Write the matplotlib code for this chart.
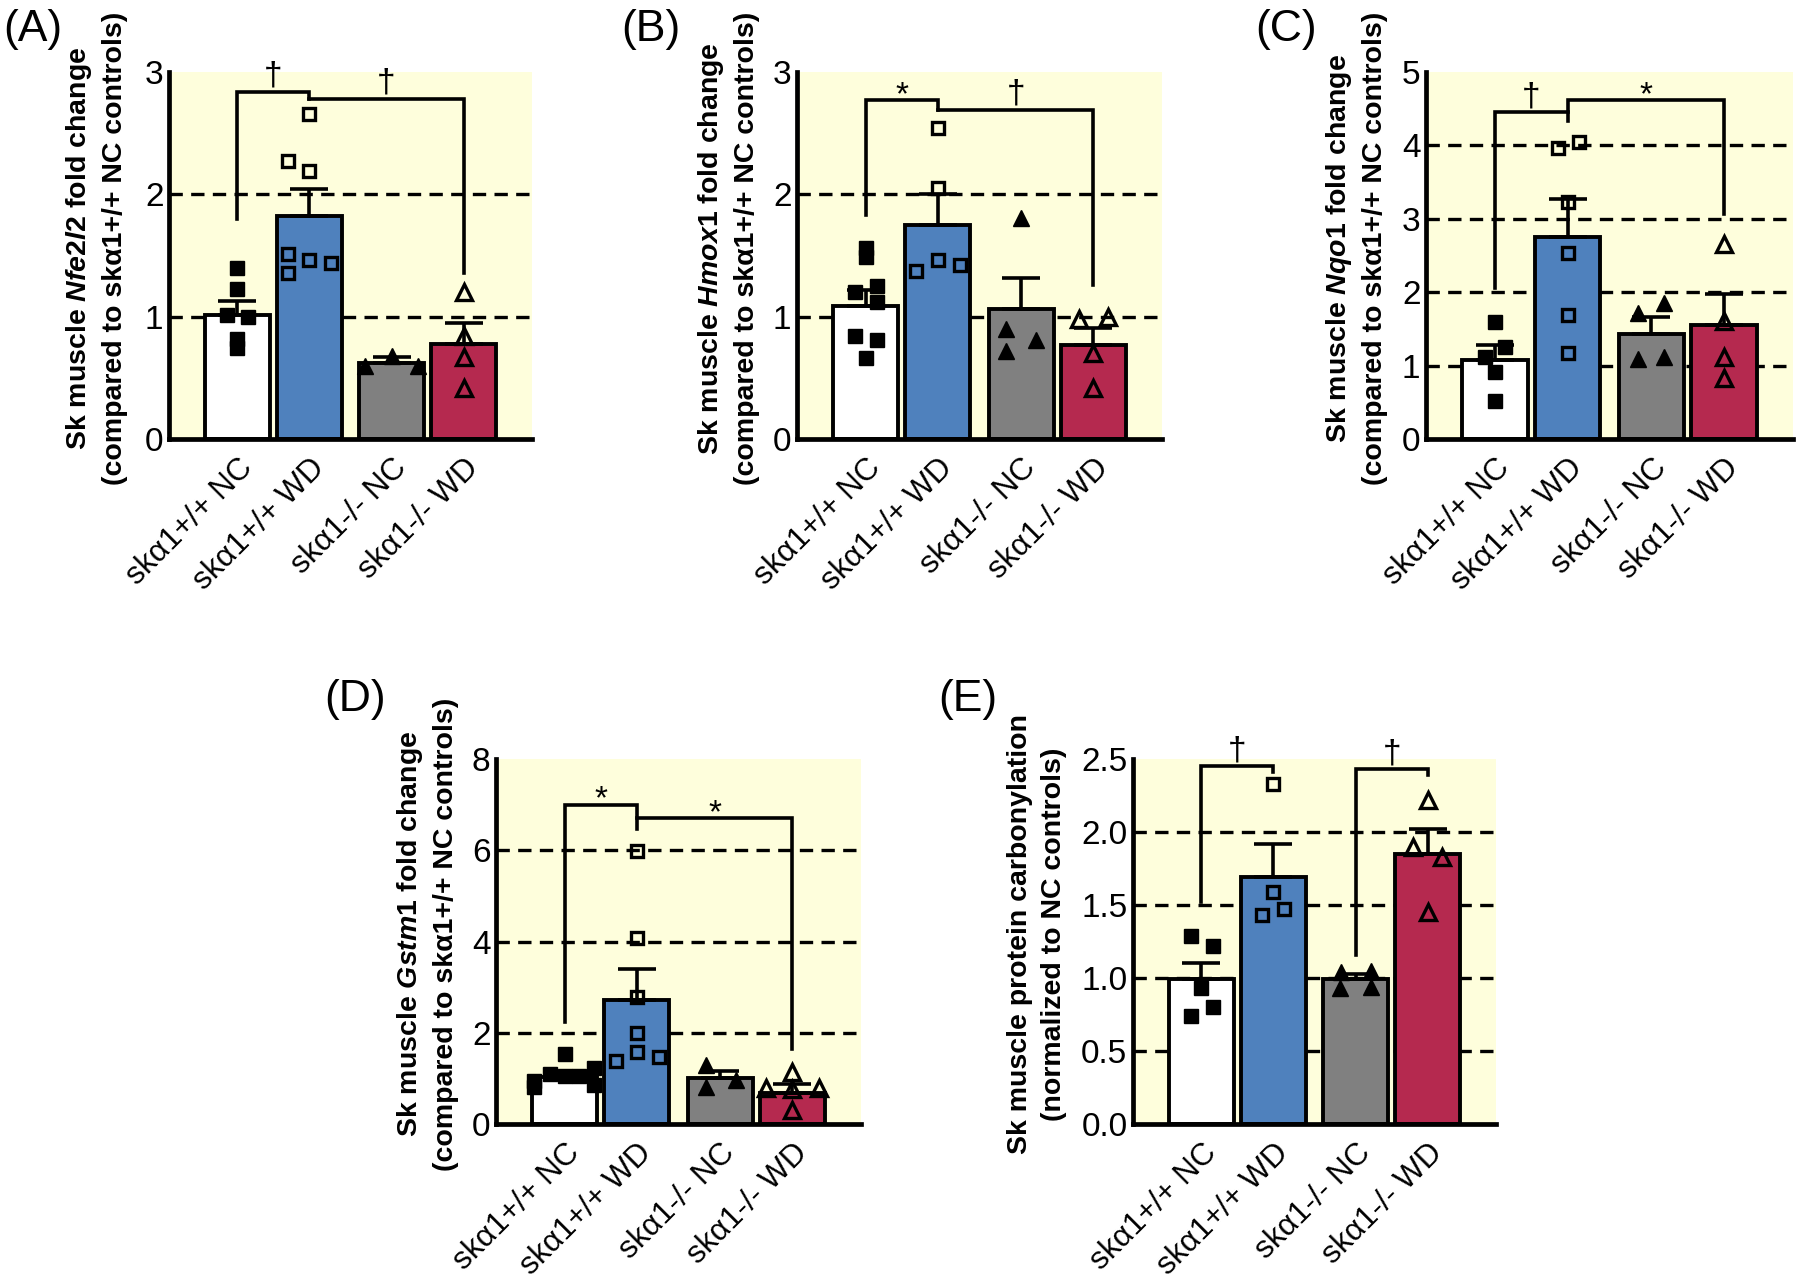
import matplotlib
matplotlib.use('Agg')
import matplotlib.pyplot as plt
import numpy as np

plt.rcParams['font.family'] = ['Liberation Sans', 'DejaVu Sans']
plt.rcParams['mathtext.fontset'] = 'custom'
plt.rcParams['mathtext.it'] = 'Liberation Sans:italic:bold'
plt.rcParams['mathtext.rm'] = 'Liberation Sans:bold'
plt.rcParams['mathtext.bf'] = 'Liberation Sans:bold'

# groups / x positions
groups = ['skα1+/+ NC', 'skα1+/+ WD', 'skα1-/- NC', 'skα1-/- WD']
xpos = np.array([0, 1, 2.15, 3.15])

# (A) Nfe2l2
a_mean = [1.01, 1.82, 0.625, 0.775]
a_sem = [0.12, 0.22, 0.045, 0.175]
a_pts = [[1.40, 1.23, 1.01, 1.00, 0.82, 0.74],
         [2.66, 2.27, 2.19, 1.51, 1.46, 1.44, 1.36],
         [0.68, 0.60, 0.60],
         [1.20, 0.84, 0.67, 0.42]]
a_jit = [[0, 0, -0.15, 0.15, 0, 0],
         [0, -0.3, 0, -0.3, 0, 0.3, -0.3],
         [0, -0.37, 0.37],
         [0, 0, 0, 0]]
a_sig = [(0, 1, 1.80, 2.84, 2.78, '†'), (1, 3, 2.78, 2.78, 1.36, '†')]

# (B) Hmox1
b_mean = [1.09, 1.75, 1.06, 0.77]
b_sem = [0.13, 0.25, 0.26, 0.14]
b_pts = [[1.56, 1.49, 1.20, 1.25, 1.12, 0.84, 0.81, 0.66],
         [2.54, 2.05, 1.46, 1.37, 1.42],
         [1.81, 0.90, 0.81, 0.72],
         [0.98, 1.00, 0.70, 0.42]]
b_jit = [[0, 0, -0.15, 0.15, 0.15, -0.15, 0.15, 0],
         [0, 0, 0, -0.3, 0.3],
         [0, -0.21, 0.21, -0.21],
         [-0.2, 0.2, 0, 0]]
b_sig = [(0, 1, 1.83, 2.77, 2.69, '*'), (1, 3, 2.69, 2.69, 1.26, '†')]

# (C) Nqo1
c_mean = [1.07, 2.75, 1.43, 1.55]
c_sem = [0.21, 0.52, 0.23, 0.43]
c_pts = [[1.59, 1.26, 1.12, 0.91, 0.52],
         [3.96, 4.04, 3.23, 2.54, 1.69, 1.17],
         [1.72, 1.85, 1.09, 1.12],
         [2.66, 1.61, 1.12, 0.83]]
c_jit = [[0, 0.14, -0.14, 0, 0],
         [-0.14, 0.15, 0, 0, 0, 0],
         [-0.18, 0.18, -0.18, 0.18],
         [0, 0, 0, 0]]
c_sig = [(0, 1, 2.06, 4.45, 4.45, '†'), (1, 3, 4.33, 4.62, 3.07, '*')]

# (D) Gstm1
d_mean = [1.03, 2.72, 1.01, 0.68]
d_sem = [0.09, 0.67, 0.15, 0.20]
d_pts = [[1.53, 1.22, 1.10, 1.05, 1.05, 0.95, 0.85, 0.82],
         [5.98, 4.07, 2.79, 2.00, 1.58, 1.38, 1.47],
         [1.29, 0.81, 0.96],
         [1.14, 0.79, 0.77, 0.79, 0.31]]
d_jit = [[0, 0.4, -0.2, 0, 0.2, -0.42, 0.4, -0.42],
         [0, 0, 0, 0, 0, -0.29, 0.31],
         [-0.19, -0.19, 0.22],
         [0, -0.37, 0, 0.37, 0]]
d_sig = [(0, 1, 2.24, 7.0, 6.47, '*'), (1, 3, 6.71, 6.71, 1.64, '*')]

# (E) protein carbonylation
e_mean = [0.99, 1.69, 0.99, 1.85]
e_sem = [0.11, 0.23, 0.04, 0.17]
e_pts = [[1.29, 1.22, 0.93, 0.80, 0.74],
         [2.33, 1.59, 1.47, 1.43],
         [1.04, 1.05, 0.93, 0.94],
         [2.22, 1.90, 1.83, 1.45]]
e_jit = [[-0.15, 0.16, 0, 0.16, -0.15],
         [0, 0, 0.15, -0.16],
         [-0.2, 0.21, -0.22, 0.21],
         [0, -0.21, 0.2, 0]]
e_sig = [(0, 1, 1.52, 2.45, 2.41, '†'), (2, 3, 1.16, 2.43, 2.39, '†')]

YELLOW = '#FEFEDC'
bar_colors = ['white', '#4F81BD', '#808080', '#B5294F']
markers = [('s', 10, 'k', 1.0), ('s', 9, 'none', 2.4),
           ('^', 12, 'k', 1.0), ('^', 11, 'none', 2.4)]

fig = plt.figure(figsize=(18, 12.81), dpi=100)
W, H = 1800, 1281


def px_axes(l, t, r, b):
    return fig.add_axes([l / W, 1 - b / H, (r - l) / W, (b - t) / H])


def draw_panel(ax, means, sems, pts, jit, sig, ymax, ystep, ylabel, lblx, fmt):
    ax.set_facecolor(YELLOW)
    ax.set_xlim(-0.95, 4.1)
    ax.set_ylim(0, ymax)
    ticks = np.arange(0, ymax + ystep / 2, ystep)
    for t in ticks[1:-1]:
        ax.axhline(t, color='k', lw=2.4, ls=(0, (4, 2.5)), zorder=1)
    ax.bar(xpos, means, width=0.9, color=bar_colors, edgecolor='k',
           linewidth=2.8, zorder=2)
    ax.errorbar(xpos, means, yerr=[np.zeros(4), sems], fmt='none', ecolor='k',
                elinewidth=2.6, capsize=14, capthick=2.6, zorder=3)
    for i in range(4):
        m, ms, fc, mew = markers[i]
        ax.plot(xpos[i] + np.array(jit[i]), pts[i], linestyle='none', marker=m,
                ms=ms, mfc=fc, mec='k', mew=mew, zorder=4)
    for i, j, y0, ytop, y1, sym in sig:
        ax.plot([xpos[i], xpos[i], xpos[j], xpos[j]], [y0, ytop, ytop, y1],
                color='k', lw=2.6, zorder=5, solid_joinstyle='miter')
        off = 0 if sym == '†' else -8
        ax.annotate(sym, ((xpos[i] + xpos[j]) / 2, ytop), xytext=(0, off),
                    textcoords='offset points', ha='center', va='bottom',
                    fontsize=24, zorder=6)
    ax.set_yticks(ticks)
    ax.set_yticklabels([fmt.format(t) for t in ticks], fontsize=24)
    ax.set_xticks(xpos)
    ax.set_xticklabels(groups, rotation=45, ha='right', va='top',
                       rotation_mode='anchor', fontsize=22.5)
    ax.tick_params(axis='x', length=0, pad=10)
    ax.tick_params(axis='y', length=0, pad=4)
    for s in ['top', 'right']:
        ax.spines[s].set_visible(False)
    for s in ['left', 'bottom']:
        ax.spines[s].set_linewidth(3.4)
    ax.set_ylabel(ylabel, fontsize=20.5, fontweight='bold', linespacing=1.4,
                  va='center')
    ax.yaxis.set_label_coords(lblx, 0.52)


ctrl = '(compared to skα1+/+ NC controls)'

axA = px_axes(169, 72, 532, 439)
draw_panel(axA, a_mean, a_sem, a_pts, a_jit, a_sig, 3, 1,
           'Sk muscle $\\mathit{Nfe2l2}$ fold change\n' + ctrl, -0.20, '{:.0f}')
axB = px_axes(797, 72, 1162, 439)
draw_panel(axB, b_mean, b_sem, b_pts, b_jit, b_sig, 3, 1,
           'Sk muscle $\\mathit{Hmox1}$ fold change\n' + ctrl, -0.19, '{:.0f}')
axC = px_axes(1426, 72, 1793, 439)
draw_panel(axC, c_mean, c_sem, c_pts, c_jit, c_sig, 5, 1,
           'Sk muscle $\\mathit{Nqo1}$ fold change\n' + ctrl, -0.19, '{:.0f}')
axD = px_axes(496, 759, 861, 1124)
draw_panel(axD, d_mean, d_sem, d_pts, d_jit, d_sig, 8, 2,
           'Sk muscle $\\mathit{Gstm1}$ fold change\n' + ctrl, -0.19, '{:.0f}')
axE = px_axes(1133, 759, 1496, 1124)
draw_panel(axE, e_mean, e_sem, e_pts, e_jit, e_sig, 2.5, 0.5,
           'Sk muscle protein carbonylation\n(normalized to NC controls)', -0.264, '{:.1f}')

for lbl, x, y in [('(A)', 3, 30), ('(B)', 621, 30), ('(C)', 1255, 30),
                  ('(D)', 324, 699), ('(E)', 938, 699)]:
    fig.text(x / W, 1 - y / H, lbl, fontsize=32, ha='left', va='center')

fig.savefig('out.png', dpi=100)
